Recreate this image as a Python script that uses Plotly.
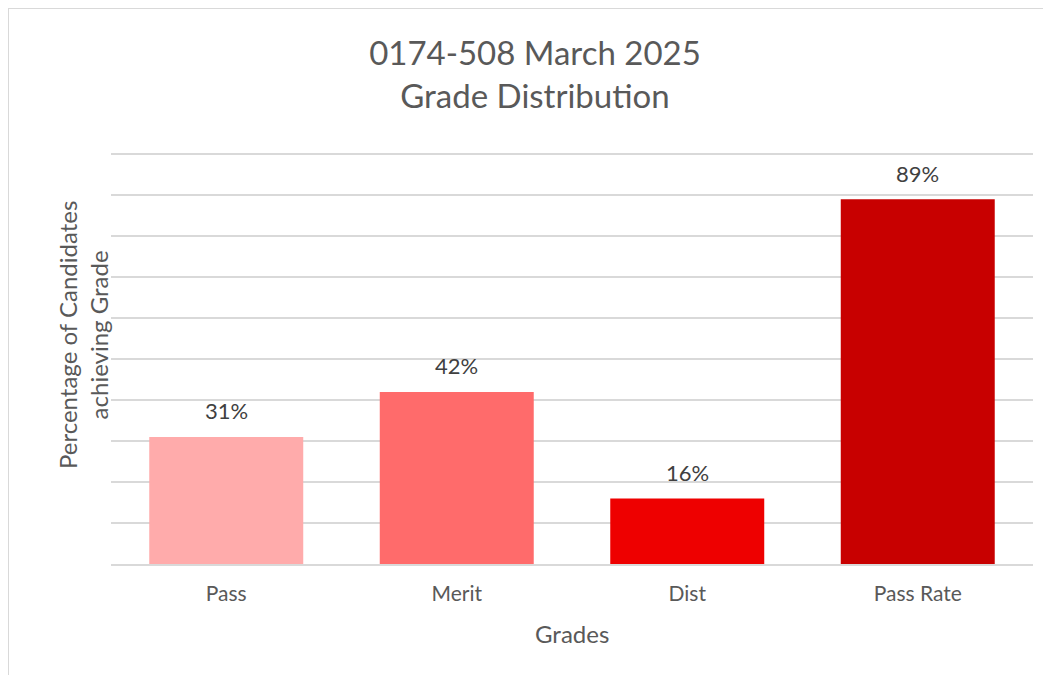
import plotly.graph_objects as go

categories = ["Pass", "Merit", "Dist", "Pass Rate"]
values = [31, 42, 16, 89]
labels = ["31%", "42%", "16%", "89%"]
colors = ["#FFABAB", "#FF6B6B", "#EE0000", "#C80000"]

FONT = "Lato"
# page body adds 8px offset; compensate in size and margins
W, H = 1043, 667
L, T, R, B = 103, 145, 18, 111
PW, PH = W - L - R, H - T - B

fig = go.Figure(go.Bar(
    x=categories, y=values,
    marker=dict(color=colors, line=dict(width=0)),
    hoverinfo="x+y",
))

annotations = []
for c, v, t in zip(categories, values, labels):
    annotations.append(dict(x=c, y=v, xref="x", yref="y", text=t, showarrow=False,
                            yanchor="middle", yshift=26,
                            font=dict(family=FONT, size=22, color="#404040")))

annotations.append(dict(text="Percentage of Candidates<br>achieving Grade", xref="paper", yref="paper",
                        x=(75 - L) / PW, y=(PH + T - 327) / PH, xanchor="center", yanchor="middle",
                        textangle=-90, showarrow=False,
                        font=dict(family=FONT, size=24, color="#595959")))
annotations.append(dict(text="Grades", xref="paper", yref="paper",
                        x=(564 - L) / PW, y=(PH + T - 625) / PH, xanchor="center", yanchor="middle",
                        showarrow=False, font=dict(family=FONT, size=24, color="#595959")))

fig.update_layout(
    width=W, height=H,
    margin=dict(l=L, r=R, t=T, b=B),
    paper_bgcolor="white", plot_bgcolor="white",
    bargap=0.332,
    showlegend=False,
    font=dict(family=FONT, color="#595959"),
    title=dict(text="0174-508 March 2025<br>Grade Distribution",
               x=527 / W, xanchor="center", y=1 - 57 / H, yanchor="middle",
               font=dict(family=FONT, size=33, color="#595959")),
    xaxis=dict(showgrid=False, showline=True, linecolor="#d9d9d9", linewidth=2,
               ticks="", ticklabelstandoff=10,
               tickfont=dict(family=FONT, size=21, color="#595959")),
    yaxis=dict(range=[0, 100.3], dtick=10, showgrid=True, gridcolor="#d9d9d9", gridwidth=2,
               showticklabels=False, zeroline=False, ticks=""),
    annotations=annotations,
    shapes=[
        dict(type="line", xref="paper", yref="paper", x0=-L / PW, x1=2, y0=(PH + T) / PH, y1=(PH + T) / PH,
             line=dict(color="#d9d9d9", width=2)),
        dict(type="line", xref="paper", yref="paper", x0=-L / PW, x1=-L / PW, y0=-2, y1=(PH + T) / PH,
             line=dict(color="#d9d9d9", width=2)),
    ],
)

fig.write_html("out.html")
